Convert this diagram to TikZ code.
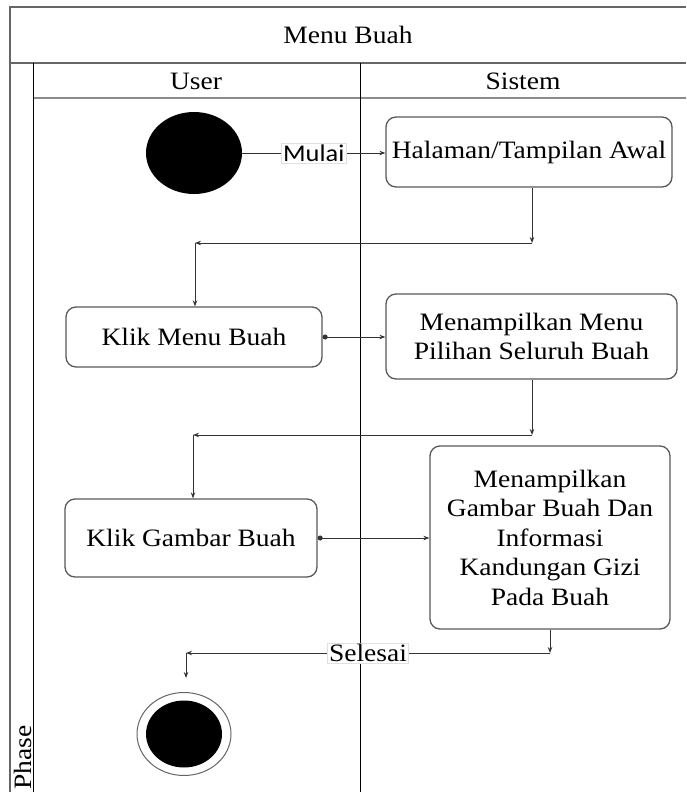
\documentclass[tikz,border=0pt]{standalone}
\usepackage{fontspec}
\setmainfont[FakeStretch=1.1]{Liberation Serif}
\newfontfamily\labelsans[FakeStretch=1.1]{Carlito}
\usetikzlibrary{arrows.meta,shapes.geometric}

\begin{document}
\begin{tikzpicture}[x=1pt,y=-1pt,
  frameline/.style={draw=black!60, line width=1.8pt},
  laneline/.style={draw=black, line width=1pt},
  actbox/.style={draw=black!65, line width=1.3pt, rounded corners=10pt, fill=white,
    align=center, font=\fontsize{25}{29.5}\selectfont, inner sep=0pt},
  flow/.style={draw=black!80, line width=1pt, -{Stealth[length=6pt,width=4.5pt]}},
  dotflow/.style={flow, {Circle[length=5pt,width=5pt]}-{Stealth[length=6pt,width=4.5pt]}},
  lbl/.style={fill=white, draw=black!12, line width=0.4pt, inner sep=1.5pt},
  headtext/.style={font=\fontsize{25}{29.5}\selectfont, inner sep=0pt}
]
\useasboundingbox (0,0) rectangle (686,792);

% swimlane frame
\draw[frameline] (10,792) -- (10,7) -- (686,7);
\draw[frameline] (10,63) -- (686,63);
\draw[draw=black!45, line width=1.6pt] (33,98) -- (686,98);
\draw[laneline] (33,63) -- (33,792);
\draw[laneline] (360,63) -- (360,792);

\node[headtext] (title) at (348,35) {Menu Buah};
\node[headtext] (userlane) at (196,81) {User};
\node[headtext] (syslane) at (523,81) {Sistem};
\node[headtext, rotate=90, anchor=base west] (phase) at (31,790) {Phase};

% activity nodes
\node[ellipse, fill=black, minimum width=96pt, minimum height=82pt, inner sep=0pt] (start) at (194,153) {};
\node[actbox, minimum width=286pt, minimum height=70pt] (halaman) at (529,152) {Halaman/Tampilan Awal};
\node[actbox, minimum width=256pt, minimum height=60pt] (klikmenu) at (194,337) {Klik Menu Buah};
\node[actbox, minimum width=291pt, minimum height=85pt] (menu) at (531.5,336.5) {Menampilkan Menu\\Pilihan Seluruh Buah};
\node[actbox, minimum width=252pt, minimum height=78pt] (klikgambar) at (191,538) {Klik Gambar Buah};
\node[actbox, minimum width=240pt, minimum height=183pt] (info) at (550,537.5)
  {Menampilkan\\Gambar Buah Dan\\Informasi\\Kandungan Gizi\\Pada Buah};
\node[ellipse, draw=black!60, line width=1pt, fill=white, minimum width=94pt, minimum height=83pt, inner sep=0pt] (finish) at (184,734) {};
\node[ellipse, fill=black, minimum width=76pt, minimum height=67pt, inner sep=0pt] (finishcore) at (184,734) {};

% bend points of the routed connectors
\coordinate (b1) at (532,243);
\coordinate (b2) at (195,243);
\coordinate (b3) at (532,435);
\coordinate (b4) at (193,435);
\coordinate (b5) at (550,653);
\coordinate (b6) at (186,653);
\coordinate (b7) at (186,678);

% connectors
\draw[flow] (start.east) -- node[lbl, font=\labelsans\fontsize{24}{28}\selectfont] {Mulai} (halaman.west |- start.east);

\draw[flow] (halaman.south -| b1) -- (b1);
\draw[flow] (b1) -- (b2);
\draw[flow] (b2) -- (klikmenu.north -| b2);

\draw[dotflow] (klikmenu.east) -- (menu.west |- klikmenu.east);

\draw[flow] (menu.south -| b3) -- (b3);
\draw[flow] (b3) -- (b4);
\draw[flow] (b4) -- (klikgambar.north -| b4);

\draw[dotflow] (klikgambar.east) -- (info.west |- klikgambar.east);

\draw[flow] (info.south -| b5) -- (b5);
\draw[flow] (b5) -- node[lbl, font=\fontsize{25}{29.5}\selectfont, pos=0.5] {Selesai} (b6);
\draw[flow] (b6) -- (b7);
\end{tikzpicture}
\end{document}
